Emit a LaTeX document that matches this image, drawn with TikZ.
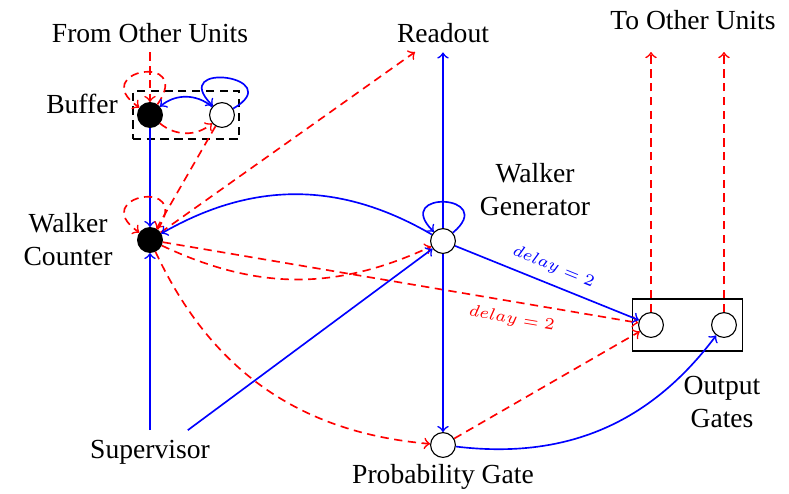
\documentclass[tikz,border=0pt]{standalone}
\usepackage{fontspec}
\setmainfont{Liberation Serif}
\usetikzlibrary{fit}

\begin{document}
\begin{tikzpicture}[x=0.3625pt,y=0.3625pt,
  unit/.style={circle,draw,fill=white,minimum size=9pt,inner sep=0pt},
  full/.style={unit,fill=black},
  exc/.style={->,draw=blue,semithick},
  inh/.style={->,draw=red,dash pattern=on 3pt off 2pt,semithick},
  dly/.style={font=\fontsize{6}{7}\selectfont,sloped}]
\useasboundingbox (0,0) rectangle (789,493);
% units
\node[full] (buf) at (150,378) {};
\node[unit] (store) at (222,378) {};
\node[full] (cnt) at (150,253) {};
\node[unit] (gen) at (443,252) {};
\node[unit] (prob) at (443,48) {};
\node[unit] (outa) at (651,168) {};
\node[unit] (outb) at (724,168) {};
\node[draw,densely dashed,semithick,fit=(buf)(store),inner xsep=1.5pt,inner ysep=4pt] (bufbox) {};
\node[draw,semithick,fit=(outa)(outb),inner xsep=2pt,inner ysep=4.7pt] (outbox) {};
% labels
\node (from) at (150,460) {From Other Units};
\node (read) at (443,460) {Readout};
\node (to) at (693,473) {To Other Units};
\node at (82,389) {Buffer};
\node[align=center] at (68,253) {Walker\\Counter};
\node[align=center] at (535,303) {Walker\\Generator};
\node (sup) at (150,41) {Supervisor};
\node at (443,16) {Probability Gate};
\node[align=center] at (722,91) {Output\\Gates};
\coordinate (readin) at (415,441);
\coordinate (toa) at (651,441);
\coordinate (tob) at (724,441);
% buffer
\draw[inh] (from) -- (buf);
\draw[inh] (buf) to[out=55,in=145,looseness=9] (buf);
\draw[exc] (store) to[out=30,in=135,looseness=8] (store);
\draw[exc] (store) to[bend right=40] (buf);
\draw[inh] (buf) to[bend right=40] (store);
\draw[exc] (buf) -- (cnt);
\draw[inh] (store) -- (cnt);
% counter
\draw[inh] (cnt) to[out=55,in=145,looseness=9] (cnt);
\draw[inh] (cnt) -- (readin);
\draw[exc] (sup) -- (cnt);
\draw[exc] (gen) to[bend right=30] (cnt);
\draw[inh] (cnt) to[bend right=25] (gen);
\draw[inh] (cnt) -- (outa) node[dly,pos=0.74,below,text=red] {$delay = 2$};
\draw[inh] (cnt) to[bend right=30] (prob);
% generator
\draw[exc] (gen) to[out=40,in=135,looseness=8] (gen);
\draw[exc] (gen) -- (read);
\draw[exc] (sup.30) -- (gen);
\draw[exc] (gen) -- (outa) node[dly,midway,above,text=blue] {$delay = 2$};
\draw[exc] (gen) -- (prob);
% gates
\draw[inh] (prob) -- (outa);
\draw[exc] (prob) to[bend right=30] (outb);
\draw[inh] (outa) -- (toa);
\draw[inh] (outb) -- (tob);
\end{tikzpicture}
\end{document}
